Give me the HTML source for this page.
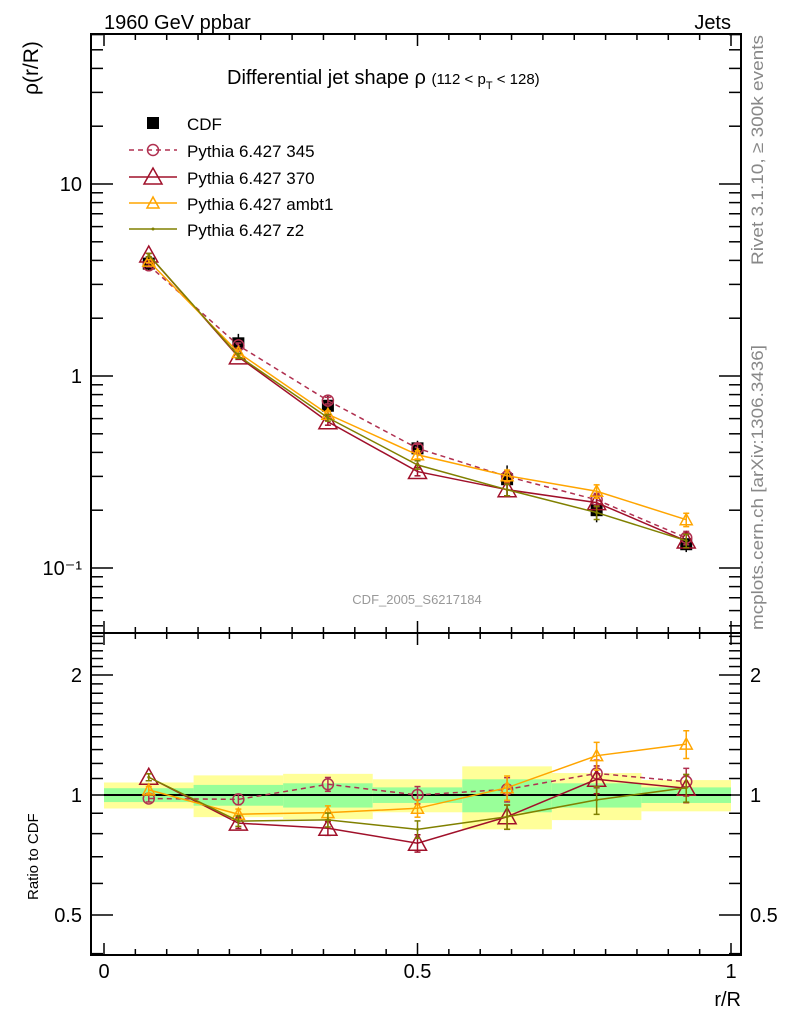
<!DOCTYPE html>
<html><head><meta charset="utf-8">
<style>
body{margin:0;background:#fff;}
svg{display:block;font-family:"Liberation Sans",Arial,sans-serif;}
</style></head>
<body>
<svg id="chart" width="786" height="1024" viewBox="0 0 786 1024" xmlns="http://www.w3.org/2000/svg">
  <rect width="786" height="1024" fill="#fff"/>
  <text x="104" y="29" font-size="20">1960 GeV ppbar</text>
  <text x="731" y="29" font-size="20" text-anchor="end">Jets</text>
  <text transform="translate(763,265) rotate(-90)" font-size="17" fill="#888" textLength="230" lengthAdjust="spacingAndGlyphs">Rivet 3.1.10, ≥ 300k events</text>
  <text transform="translate(763,630) rotate(-90)" font-size="17" fill="#888" textLength="285" lengthAdjust="spacingAndGlyphs">mcplots.cern.ch [arXiv:1306.3436]</text>
  <text x="227" y="84" font-size="20">Differential jet shape ρ <tspan font-size="15">(112 &lt; p</tspan><tspan font-size="11" dy="5">T</tspan><tspan font-size="15" dy="-5"> &lt; 128)</tspan></text>
  <text transform="translate(38,95) rotate(-90)" font-size="21">ρ(r/R)</text>
  <text transform="translate(38,900) rotate(-90)" font-size="15">Ratio to CDF</text>
  <text x="741" y="1006" font-size="20" text-anchor="end">r/R</text>
  <text x="417" y="604" font-size="13" fill="#999" text-anchor="middle">CDF_2005_S6217184</text>
  <g id="bands"></g>
  <g id="axes"></g>
  <g id="series"></g>
  <g id="legend"></g>
</svg>
<script>
const xCenters = [0.0714, 0.2143, 0.3571, 0.5, 0.6429, 0.7857, 0.9286];
const binEdges = [0, 0.1429, 0.2857, 0.4286, 0.5714, 0.7143, 0.8571, 1.0];
const cdfValues = [3.85, 1.48, 0.70, 0.42, 0.29, 0.20, 0.133];
const cdfStatErr = [0.04, 0.06, 0.07, 0.045, 0.095, 0.07, 0.045];
const cdfTotErr = [0.075, 0.12, 0.13, 0.095, 0.18, 0.135, 0.09];
const ratio345 = [0.98, 0.975, 1.064, 1.0, 1.033, 1.133, 1.08];
const ratio370 = [1.108, 0.85, 0.825, 0.757, 0.882, 1.095, 1.04];
const ratioAmbt1 = [1.03, 0.895, 0.903, 0.926, 1.043, 1.255, 1.342];
const ratioZ2 = [1.108, 0.86, 0.866, 0.82, 0.882, 0.972, 1.043];
const mcErr = [0.02, 0.03, 0.04, 0.05, 0.07, 0.08, 0.08];
const mainYTicks = [0.1, 1, 10];
const mainYTickLabels = ["10⁻¹", "1", "10"];
const ratioYTicks = [0.5, 1, 2];
const ratioYTickLabels = ["0.5", "1", "2"];
const xTicks = [0, 0.5, 1];
const xTickLabels = ["0", "0.5", "1"];

const NS = "http://www.w3.org/2000/svg";
const L = 91, R = 741, T = 34, MB = 633, B = 955;
const X = v => 104 + v * 627;
const Y = v => 376 - 192 * Math.log10(v);
const YR = v => 795 - 120 * Math.log2(v);
function mk(tag, attrs, parent) {
  const e = document.createElementNS(NS, tag);
  for (const k in attrs) e.setAttribute(k, attrs[k]);
  parent.appendChild(e);
  return e;
}
const axes = document.getElementById('axes');
const bands = document.getElementById('bands');
const ser = document.getElementById('series');
const leg = document.getElementById('legend');

for (let i = 0; i < xCenters.length; i++) {
  const x0 = X(binEdges[i]), x1 = X(binEdges[i + 1]);
  const y = mk('rect', {x: x0, y: YR(1 + cdfTotErr[i]), width: x1 - x0, height: YR(1 - cdfTotErr[i]) - YR(1 + cdfTotErr[i]), fill: '#ffff99'}, bands);
  
  
  const g = mk('rect', {x: x0, y: YR(1 + cdfStatErr[i]), width: x1 - x0, height: YR(1 - cdfStatErr[i]) - YR(1 + cdfStatErr[i]), fill: '#99ff99'}, bands);
  
  
}
mk('line', {x1: X(0), x2: X(1), y1: YR(1), y2: YR(1), stroke: '#000', 'stroke-width': 2}, bands);

for (const [y0, y1] of [[T, MB], [MB, B]]) {
  const f = mk('rect', {x: L, y: y0, width: R - L, height: y1 - y0, fill: 'none', stroke: '#000', 'stroke-width': 2}, axes);
  
  
}
for (let k = 0; k <= 20; k++) {
  const v = k * 0.05, x = X(v), len = (k % 10 === 0) ? 12 : 6;
  for (const [yb, dir] of [[B, -1], [MB, -1], [MB, 1], [T, 1]]) {
    mk('line', {x1: x, x2: x, y1: yb, y2: yb + dir * len, stroke: '#000', 'stroke-width': 1.5}, axes);
  }
}
xTicks.forEach((v, i) => {
  const t = mk('text', {x: X(v), y: 978, 'font-size': 20, 'text-anchor': 'middle'}, axes);
  t.textContent = xTickLabels[i];
  
  
});
for (let d = -2; d <= 1; d++) {
  for (let m = 1; m <= 9; m++) {
    const v = m * Math.pow(10, d), y = Y(v);
    if (y < T || y > MB) continue;
    const len = m === 1 ? 22 : 12;
    mk('line', {x1: L, x2: L + len, y1: y, y2: y, stroke: '#000', 'stroke-width': 1.5}, axes);
    mk('line', {x1: R, x2: R - len, y1: y, y2: y, stroke: '#000', 'stroke-width': 1.5}, axes);
  }
}
mainYTicks.forEach((v, i) => {
  const t = mk('text', {x: 82, y: Y(v) + 7, 'font-size': 20, 'text-anchor': 'end'}, axes);
  t.textContent = mainYTickLabels[i];
  
  
});
for (let v = 0.4; v <= 2.6; v += 0.1) {
  const vv = Math.round(v * 10) / 10, y = YR(vv);
  if (y < MB || y > B) continue;
  const major = (vv === 0.5 || vv === 1 || vv === 2);
  const len = major ? 22 : 12;
  mk('line', {x1: L, x2: L + len, y1: y, y2: y, stroke: '#000', 'stroke-width': 1.5}, axes);
  mk('line', {x1: R, x2: R - len, y1: y, y2: y, stroke: '#000', 'stroke-width': 1.5}, axes);
}
ratioYTicks.forEach((v, i) => {
  const t = mk('text', {x: 82, y: YR(v) + 7, 'font-size': 20, 'text-anchor': 'end'}, axes);
  t.textContent = ratioYTickLabels[i];
  
  
  const t2 = mk('text', {x: 750, y: YR(v) + 7, 'font-size': 20}, axes);
  t2.textContent = ratioYTickLabels[i];
  
  
});

function marker(type, x, y, color, parent) {
  let e;
  if (type === 'square') e = mk('rect', {x: x - 6, y: y - 6, width: 12, height: 12, fill: '#000'}, parent);
  else if (type === 'circle') e = mk('circle', {cx: x, cy: y, r: 5.5, fill: 'none', stroke: color, 'stroke-width': 1.5}, parent);
  else if (type === 'bigtri') e = mk('polygon', {points: `${x},${y - 9} ${x - 9},${y + 7} ${x + 9},${y + 7}`, fill: 'none', stroke: color, 'stroke-width': 1.5}, parent);
  else if (type === 'tri') e = mk('polygon', {points: `${x},${y - 6} ${x - 6},${y + 5} ${x + 6},${y + 5}`, fill: 'none', stroke: color, 'stroke-width': 1.5}, parent);
  else e = mk('circle', {cx: x, cy: y, r: 1.5, fill: color}, parent);
  return e;
}
const seriesDefs = [
  {name: '345', ratio: ratio345, color: '#b03050', dash: '5,4', mk: 'circle', label: 'Pythia 6.427 345'},
  {name: '370', ratio: ratio370, color: '#a0102a', dash: '', mk: 'bigtri', label: 'Pythia 6.427 370'},
  {name: 'ambt1', ratio: ratioAmbt1, color: '#ffa500', dash: '', mk: 'tri', label: 'Pythia 6.427 ambt1'},
  {name: 'z2', ratio: ratioZ2, color: '#808000', dash: '', mk: 'dot', label: 'Pythia 6.427 z2'}
];
const cg = mk('g', {}, ser);


cdfValues.forEach((v, i) => {
  const x = X(xCenters[i]);
  mk('line', {x1: x, x2: x, y1: Y(v * (1 + cdfTotErr[i])), y2: Y(v * (1 - cdfTotErr[i])), stroke: '#000', 'stroke-width': 1.5}, cg);
  const m = marker('square', x, Y(v), '#000', cg);
  
  
});
seriesDefs.forEach(s => {
  const g = mk('g', {}, ser);
  
  
  const mainPts = s.ratio.map((r, i) => `${X(xCenters[i])},${Y(r * cdfValues[i])}`).join(' ');
  const ratPts = s.ratio.map((r, i) => `${X(xCenters[i])},${YR(r)}`).join(' ');
  mk('polyline', {points: mainPts, fill: 'none', stroke: s.color, 'stroke-width': 1.5, 'stroke-dasharray': s.dash}, g);
  mk('polyline', {points: ratPts, fill: 'none', stroke: s.color, 'stroke-width': 1.5, 'stroke-dasharray': s.dash}, g);
  s.ratio.forEach((r, i) => {
    const x = X(xCenters[i]);
    const v = r * cdfValues[i], e = mcErr[i];
    for (const [fy, val] of [[Y, v], [YR, r]]) {
      const y1 = fy(val * (1 + e)), y2 = fy(val * (1 - e));
      mk('line', {x1: x, x2: x, y1: y1, y2: y2, stroke: s.color, 'stroke-width': 1.5}, g);
      mk('line', {x1: x - 3, x2: x + 3, y1: y1, y2: y1, stroke: s.color, 'stroke-width': 1.5}, g);
      mk('line', {x1: x - 3, x2: x + 3, y1: y2, y2: y2, stroke: s.color, 'stroke-width': 1.5}, g);
      const m = marker(s.mk, x, fy(val), s.color, g);
      
      
    }
  });
});
const ly = [123, 150, 177, 203, 229];
marker('square', 153, ly[0], '#000', leg);
const lt0 = mk('text', {x: 187, y: ly[0] + 7, 'font-size': 17}, leg);
lt0.textContent = 'CDF';


seriesDefs.forEach((s, i) => {
  const y = ly[i + 1];
  mk('line', {x1: 129, x2: 177, y1: y, y2: y, stroke: s.color, 'stroke-width': 1.5, 'stroke-dasharray': s.dash}, leg);
  marker(s.mk, 153, y, s.color, leg);
  const t = mk('text', {x: 187, y: y + 7, 'font-size': 17}, leg);
  t.textContent = s.label;
  
  
});
</script>
</body></html>
